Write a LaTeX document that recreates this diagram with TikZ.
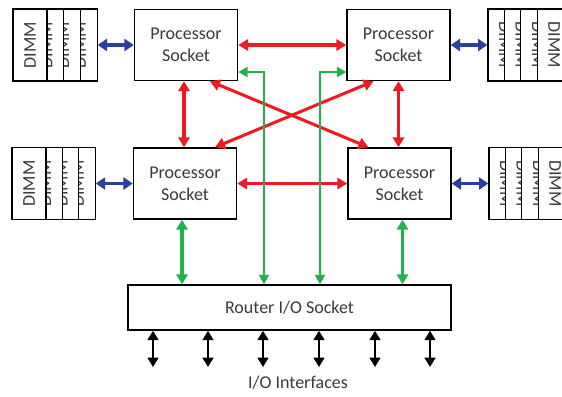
\documentclass[tikz,border=0pt]{standalone}
\usepackage{fontspec}
\setmainfont{Carlito}
\usepackage{tikz}
\usetikzlibrary{arrows.meta}
\definecolor{ink}{HTML}{3A3A3A}
\definecolor{cohred}{HTML}{ED1C24}
\definecolor{iogreen}{HTML}{22B14C}
\definecolor{memblue}{HTML}{2B3F9C}

\begin{document}
\begin{tikzpicture}[
  x=0.75pt, y=-0.75pt,
  font=\fontsize{13.5}{16.5}\selectfont,
  text=ink,
  procbox/.style={draw=black, line width=1.1pt, fill=white,
    minimum width=77.25pt, minimum height=53.25pt, align=center, inner sep=0pt},
  dimmbox/.style={draw=black, line width=0.9pt, fill=white,
    minimum width=54pt, minimum height=25.5pt, inner sep=0pt},
  routerbox/.style={draw=black, line width=1.1pt, fill=white,
    minimum width=242.25pt, minimum height=33.75pt, inner sep=0pt},
  memlink/.style={{Triangle[length=7pt,width=9pt]}-{Triangle[length=7pt,width=9pt]},
    draw=memblue, line width=2.6pt},
  cohlink/.style={{Triangle[length=7.5pt,width=8.5pt]}-{Triangle[length=7.5pt,width=8.5pt]},
    draw=cohred, line width=2.3pt},
  iolink/.style={{Triangle[length=7.5pt,width=8.5pt]}-{Triangle[length=7.5pt,width=8.5pt]},
    draw=iogreen, line width=2.3pt},
  iothin/.style={{Triangle[length=7pt,width=7.5pt]}-{Triangle[length=7pt,width=7.5pt]},
    draw=iogreen, line width=1.4pt},
  extlink/.style={{Triangle[length=7pt,width=8pt]}-{Triangle[length=7pt,width=8pt]},
    draw=black, line width=2.2pt},
]
  \useasboundingbox (0,0) rectangle (562,397);

  % DIMM stacks, back ones first
  \foreach \i in {3,2,1,0} {
    \node[dimmbox, rotate=90] (dtl\i) at ({30+16.7*\i},45) {DIMM};
    \node[dimmbox, rotate=90] (dbl\i) at ({29+16.4*\i},183.5) {DIMM};
  }
  \foreach \i in {0,1,2,3} {
    \node[dimmbox, rotate=-90] (dtr\i) at ({505+16.4*\i},45) {DIMM};
    \node[dimmbox, rotate=-90] (dbr\i) at ({506+16.4*\i},183.5) {DIMM};
  }

  % sockets
  \node[procbox] (ptl) at (186,45) {Processor\\Socket};
  \node[procbox] (ptr) at (398.5,45) {Processor\\Socket};
  \node[procbox] (pbl) at (185,183.5) {Processor\\Socket};
  \node[procbox] (pbr) at (399.5,183.5) {Processor\\Socket};
  \node[routerbox] (router) at (289.5,307.5) {Router I/O Socket};

  % memory
  \draw[memlink] (dtl3.south) -- (ptl.west);
  \draw[memlink] (dbl3.south) -- (pbl.west);
  \draw[memlink] (ptr.east) -- (dtr0.south);
  \draw[memlink] (pbr.east) -- (dbr0.south);

  % socket to socket
  \draw[cohlink] (ptl.east) -- (ptr.west);
  \draw[cohlink] (pbl.east) -- (pbr.west);
  \draw[cohlink] ([xshift=-1.5pt]ptl.south) -- ([xshift=-0.75pt]pbl.north);
  \draw[cohlink] (ptr.south) -- ([xshift=-0.75pt]pbr.north);
  \draw[cohlink] ([xshift=18pt]ptl.south) -- ([xshift=-23.25pt]pbr.north);
  \draw[cohlink] ([xshift=-18.75pt]ptr.south) -- ([xshift=22.5pt]pbl.north);

  % sockets to router
  \draw[iolink] ([xshift=-2.25pt]pbl.south) -- ([xshift=-2.25pt]pbl.south |- router.north);
  \draw[iolink] ([xshift=2.25pt]pbr.south) -- ([xshift=2.25pt]pbr.south |- router.north);
  \coordinate (gl) at (264,72);
  \coordinate (gr) at (320,72);
  \draw[iothin] (ptl.east |- gl) -- (gl) -- (gl |- router.north);
  \draw[iothin] (ptr.west |- gr) -- (gr) -- (gr |- router.north);

  % external interfaces
  \foreach \x [count=\k] in {153,208,263,319,375,430} {
    \coordinate (io\k) at (\x,367);
    \draw[extlink] (router.south -| io\k) -- (io\k);
  }
  \node (iolabel) at (298,383) {I/O Interfaces};
\end{tikzpicture}
\end{document}
